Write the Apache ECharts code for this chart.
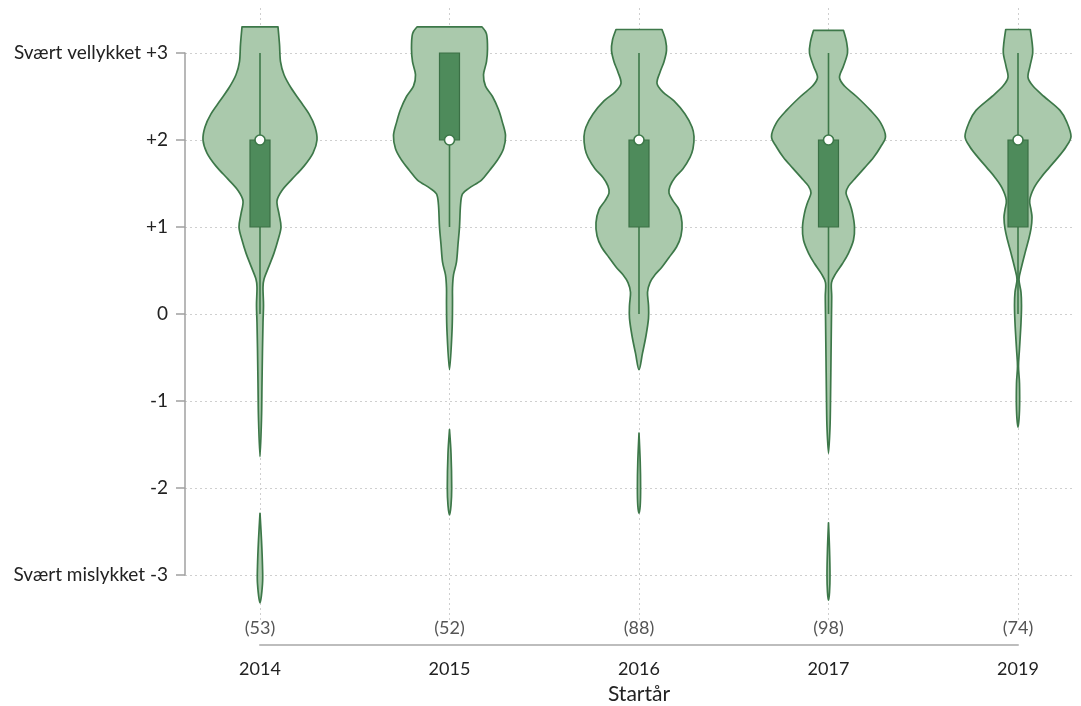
<!DOCTYPE html>
<html>
<head>
<meta charset="utf-8">
<script src="https://cdn.jsdelivr.net/npm/echarts@6/dist/echarts.min.js"></script>
<style>
  html, body { margin: 0; padding: 0; background: #fff; }
  #chart { width: 1081px; height: 706px; }
</style>
</head>
<body>
<div id="chart"></div>
<script>
// Start years and number of respondents per year
const years = ['2014', '2015', '2016', '2017', '2019'];
const counts = [53, 52, 88, 98, 74];

// Rating scale tick labels (value -3 .. +3)
const yTickLabels = ['Svært mislykket -3', '-2', '-1', '0', '+1', '+2', 'Svært vellykket +3'];

// Box statistics per year: [low whisker, Q1, median, Q3, high whisker]
const box2014 = [0, 1, 2, 2, 3];
const box2015 = [1, 2, 2, 3, 3];
const box2016 = [0, 1, 2, 2, 3];
const box2017 = [0, 1, 2, 2, 3];
const box2019 = [0, 1, 2, 2, 3];

// Kernel density profiles: [rating, density]; null separates disjoint pieces
const violin2014 = [
  [3.30, 18], [3.10, 19.5], [2.90, 20.5], [2.75, 24], [2.60, 31], [2.45, 40], [2.30, 49],
  [2.15, 55], [2.00, 57], [1.85, 53], [1.70, 44], [1.55, 32], [1.42, 22], [1.30, 17],
  [1.15, 19], [1.00, 21], [0.85, 18], [0.70, 14], [0.55, 9], [0.40, 4], [0.30, 3],
  [0.10, 3.5], [-0.10, 3], [-0.40, 2.5], [-0.80, 2], [-1.20, 1.5], [-1.64, 0],
  null,
  [-2.29, 0], [-2.60, 1.5], [-2.90, 2.5], [-3.10, 2.5], [-3.32, 0]
];
const violin2015 = [
  [3.30, 32.5], [3.22, 37], [3.05, 38], [2.90, 37], [2.75, 34], [2.62, 36], [2.50, 43],
  [2.35, 49], [2.20, 53], [2.05, 56], [1.90, 54], [1.77, 48], [1.65, 40], [1.54, 32],
  [1.45, 20], [1.38, 13], [1.25, 11], [1.00, 10], [0.80, 8.5], [0.60, 7], [0.45, 4],
  [0.30, 3], [0.10, 3], [-0.20, 2.5], [-0.64, 0],
  null,
  [-1.33, 0], [-1.60, 1.5], [-2.00, 2.2], [-2.20, 1.5], [-2.31, 0]
];
const violin2016 = [
  [3.27, 23], [3.15, 26.5], [3.03, 27.5], [2.90, 25], [2.78, 21], [2.65, 18], [2.55, 24],
  [2.45, 35], [2.30, 46], [2.15, 53], [2.04, 55], [1.90, 54], [1.80, 51], [1.67, 44],
  [1.57, 36], [1.47, 31], [1.39, 30], [1.30, 34], [1.20, 40], [1.05, 43], [0.90, 42],
  [0.77, 37.5], [0.65, 30], [0.54, 23], [0.45, 16], [0.36, 11], [0.25, 8.5], [0.10, 9.5],
  [-0.05, 9.5], [-0.25, 7], [-0.45, 3.5], [-0.64, 0],
  null,
  [-1.37, 0], [-1.70, 1.2], [-2.00, 1.6], [-2.20, 1.2], [-2.29, 0]
];
const violin2017 = [
  [3.26, 15], [3.13, 18], [3.00, 19], [2.85, 15], [2.72, 11], [2.62, 16], [2.50, 28],
  [2.34, 42], [2.20, 52], [2.04, 57], [1.92, 52], [1.80, 45], [1.68, 36], [1.57, 27.5],
  [1.47, 20], [1.39, 17.5], [1.28, 21], [1.16, 24], [1.00, 26], [0.85, 25], [0.70, 20],
  [0.58, 14], [0.47, 7.5], [0.36, 3], [0.20, 3.2], [0.00, 3], [-0.50, 2.5], [-1.00, 2],
  [-1.30, 1.5], [-1.60, 0],
  null,
  [-2.40, 0], [-2.70, 1], [-3.00, 1.5], [-3.20, 1], [-3.29, 0]
];
const violin2019 = [
  [3.27, 12.3], [3.13, 14], [3.00, 14.7], [2.85, 12], [2.72, 10], [2.62, 15], [2.50, 26],
  [2.34, 42], [2.20, 49], [2.04, 53], [1.92, 48], [1.80, 40], [1.68, 31], [1.57, 23],
  [1.45, 16], [1.31, 11.7], [1.20, 13], [1.11, 14], [0.98, 13], [0.85, 10.5], [0.70, 7],
  [0.54, 3.5], [0.40, 1], [0.25, 3], [0.10, 3.5], [-0.10, 3], [-0.40, 1.5], [-0.60, 0.5],
  [-0.80, 1.5], [-1.10, 1.5], [-1.30, 0]
];

const violins = [violin2014, violin2015, violin2016, violin2017, violin2019];
const boxes = [box2014, box2015, box2016, box2017, box2019];

// density units -> category-axis units
const DENSITY_SCALE = 1 / 189.5;
const BOX_HALF = 10 / 189.5;

const FILL = '#aac9ac';
const LINE = '#3d7849';
const BOX_FILL = '#4e8b5b';
const FONT = 'Lato, "Open Sans", sans-serif';

function splitPieces(profile) {
  const pieces = [];
  let cur = [];
  profile.forEach(p => {
    if (p === null) { if (cur.length) pieces.push(cur); cur = []; }
    else cur.push(p);
  });
  if (cur.length) pieces.push(cur);
  return pieces;
}

// Open Catmull-Rom curve through pts, as SVG path commands (after the initial M)
function catmullRom(pts) {
  let d = '';
  for (let k = 0; k < pts.length - 1; k++) {
    const p0 = pts[Math.max(k - 1, 0)];
    const p1 = pts[k];
    const p2 = pts[k + 1];
    const p3 = pts[Math.min(k + 2, pts.length - 1)];
    const c1x = p1[0] + (p2[0] - p0[0]) / 6;
    const c1y = p1[1] + (p2[1] - p0[1]) / 6;
    const c2x = p2[0] - (p3[0] - p1[0]) / 6;
    const c2y = p2[1] - (p3[1] - p1[1]) / 6;
    d += ' C' + c1x.toFixed(2) + ' ' + c1y.toFixed(2) + ' ' + c2x.toFixed(2) + ' ' +
      c2y.toFixed(2) + ' ' + p2[0].toFixed(2) + ' ' + p2[1].toFixed(2);
  }
  return d;
}

function renderViolin(params, api) {
  const i = api.value(0);
  const pieces = splitPieces(violins[i]);
  const children = pieces.map(piece => {
    // down the right edge, round the tip, back up the left edge
    const right = piece.map(([v, d]) => api.coord([i + d * DENSITY_SCALE, v]));
    const left = piece.slice().reverse()
      .filter(([v, d], k) => !(k === 0 && d === 0))
      .map(([v, d]) => api.coord([i - d * DENSITY_SCALE, v]));
    let pts = right.concat(left);
    if (piece[0][1] === 0) pts = pts.slice(0, pts.length - 1).concat([right[0]]);
    const pathData = 'M' + pts[0][0].toFixed(2) + ' ' + pts[0][1].toFixed(2) + catmullRom(pts) + ' Z';
    return {
      type: 'path',
      shape: { pathData },
      style: { fill: FILL, stroke: LINE, lineWidth: 1.7, lineJoin: 'round' }
    };
  });
  return { type: 'group', children };
}

function renderBox(params, api) {
  const i = api.value(0);
  const low = api.coord([i, api.value(1)]);
  const q1 = api.coord([i, api.value(2)]);
  const med = api.coord([i, api.value(3)]);
  const q3 = api.coord([i, api.value(4)]);
  const high = api.coord([i, api.value(5)]);
  const l = api.coord([i - BOX_HALF, 0])[0];
  const r = api.coord([i + BOX_HALF, 0])[0];
  return {
    type: 'group',
    children: [
      { type: 'line', shape: { x1: low[0], y1: low[1], x2: q1[0], y2: q1[1] },
        style: { stroke: LINE, lineWidth: 1.6 } },
      { type: 'line', shape: { x1: q3[0], y1: q3[1], x2: high[0], y2: high[1] },
        style: { stroke: LINE, lineWidth: 1.6 } },
      { type: 'rect', shape: { x: l, y: q3[1], width: r - l, height: q1[1] - q3[1] },
        style: { fill: BOX_FILL, stroke: '#3a7045', lineWidth: 1.2 } },
      { type: 'circle', shape: { cx: med[0], cy: med[1], r: 5 },
        style: { fill: '#ffffff', stroke: LINE, lineWidth: 1.6 } }
    ]
  };
}

const chart = echarts.init(document.getElementById('chart'), null, { renderer: 'canvas' });

const xMin = (185 - 260) / 189.5;
const xMax = (1075 - 260) / 189.5;

chart.setOption({
  animation: false,
  backgroundColor: '#ffffff',
  grid: [
    { left: 185, right: 6, top: 53, bottom: 131 },   // main plot area (ratings -3..+3)
    { left: 260, right: 63, top: 8, bottom: 86 },    // vertical guide lines
    { left: 260, right: 63, top: 600, bottom: 58 }   // year axis
  ],
  xAxis: [
    { gridIndex: 0, type: 'value', min: xMin, max: xMax, show: false },
    {
      gridIndex: 1, type: 'category', boundaryGap: false, data: years,
      axisLine: { show: false }, axisTick: { show: false }, axisLabel: { show: false },
      splitLine: { show: true, lineStyle: { color: '#cfcfcf', type: [2, 3], width: 1 } }
    },
    {
      gridIndex: 2, type: 'category', boundaryGap: false, data: years, position: 'bottom',
      axisLine: { show: true, lineStyle: { color: '#bdbdbd', width: 2 } },
      axisTick: { show: false },
      axisLabel: { margin: 15, fontSize: 18, color: '#222', fontFamily: FONT },
      splitLine: { show: false },
      name: 'Startår', nameLocation: 'middle', nameGap: 39,
      nameTextStyle: { fontSize: 21, color: '#222', fontFamily: FONT }
    },
    {
      gridIndex: 2, type: 'category', boundaryGap: false, position: 'bottom',
      data: counts.map(c => '(' + c + ')'),
      axisLine: { show: false }, axisTick: { show: false },
      axisLabel: { inside: true, margin: 8, fontSize: 18, color: '#555', fontFamily: FONT },
      splitLine: { show: false }
    }
  ],
  yAxis: [
    {
      gridIndex: 0, type: 'value', min: -3, max: 3, interval: 1,
      axisLine: { show: true, onZero: false, lineStyle: { color: '#a0a0a0', width: 1.5 } },
      axisTick: { show: true, length: 9, lineStyle: { color: '#a0a0a0', width: 1.5 } },
      axisLabel: {
        margin: 17, fontSize: 19, color: '#222', fontFamily: FONT,
        formatter: v => yTickLabels[Math.round(v) + 3]
      },
      splitLine: { show: true, lineStyle: { color: '#cfcfcf', type: [2, 3], width: 1 } }
    },
    { gridIndex: 1, type: 'value', min: 0, max: 1, show: false },
    { gridIndex: 2, type: 'value', min: 0, max: 1, show: false }
  ],
  series: [
    {
      type: 'custom', name: 'violin', xAxisIndex: 0, yAxisIndex: 0, clip: false,
      renderItem: renderViolin,
      data: years.map((y, i) => [i]),
      z: 2
    },
    {
      type: 'custom', name: 'box', xAxisIndex: 0, yAxisIndex: 0, clip: false,
      renderItem: renderBox,
      data: boxes.map((b, i) => [i].concat(b)),
      z: 3
    }
  ]
});
</script>
</body>
</html>
